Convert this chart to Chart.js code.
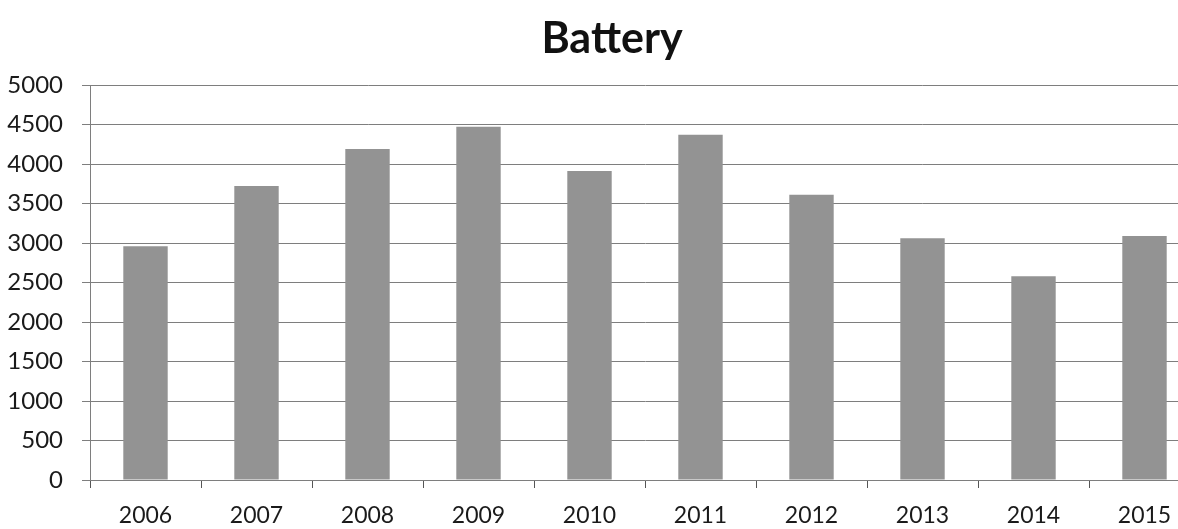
<!DOCTYPE html>
<html>
<head>
<meta charset="utf-8">
<title>Battery</title>
<script src="https://cdn.jsdelivr.net/npm/chart.js@4/dist/chart.umd.min.js"></script>
<style>
  html, body { margin: 0; padding: 0; background: #ffffff; overflow: hidden; }
  #wrap { width: 1178px; height: 529px; overflow: hidden; }
  canvas { display: block; }
</style>
</head>
<body>
<div id="wrap"><canvas id="chart" width="1224" height="529"></canvas></div>
<script>
// Yearly battery figures
const years = ['2006', '2007', '2008', '2009', '2010', '2011', '2012', '2013', '2014', '2015'];
const batteryValues = [2960, 3720, 4190, 4470, 3910, 4370, 3610, 3060, 2580, 3090];
const yTicks = [0, 500, 1000, 1500, 2000, 2500, 3000, 3500, 4000, 4500, 5000];

const FONT = 'Lato, "Noto Sans", sans-serif';
const GRID = '#7e7e7e';

// Centre the title over the whole canvas rather than the padded box
const centerTitle = {
  id: 'centerTitle',
  afterLayout(chart) {
    const t = chart.titleBlock;
    if (t) { t.left = 0; t.right = chart.width; }
  }
};

new Chart(document.getElementById('chart'), {
  type: 'bar',
  data: {
    labels: years,
    datasets: [{
      label: 'Battery',
      data: batteryValues,
      backgroundColor: '#939393',
      borderWidth: 0,
      categoryPercentage: 1.0,
      barPercentage: 0.4
    }]
  },
  plugins: [centerTitle],
  options: {
    responsive: false,
    animation: false,
    layout: { padding: { left: 0, right: 24, top: 0, bottom: 0 } },
    plugins: {
      legend: { display: false },
      tooltip: { enabled: false },
      title: {
        display: true,
        text: 'Battery',
        color: '#111111',
        font: { family: FONT, size: 43, weight: 'bold' },
        padding: { top: 13, bottom: 20.4 }
      }
    },
    scales: {
      x: {
        offset: true,
        grid: {
          display: true,
          offset: true,
          drawOnChartArea: false,
          drawTicks: true,
          tickLength: 8,
          color: '#555555',
          lineWidth: 1
        },
        border: { display: true, color: GRID, width: 1 },
        ticks: {
          color: '#1a1a1a',
          font: { family: FONT, size: 23 },
          padding: 14,
          maxRotation: 0,
          autoSkip: false
        },
        afterFit: (s) => { s.height = 49; }
      },
      y: {
        min: 0,
        max: 5000,
        afterBuildTicks: (s) => { s.ticks = yTicks.map(v => ({ value: v })); },
        grid: {
          color: GRID,
          lineWidth: 1,
          drawTicks: true,
          tickLength: 8
        },
        border: { display: true, color: GRID, width: 1 },
        ticks: {
          color: '#1a1a1a',
          font: { family: FONT, size: 24 },
          padding: 19,
          callback: (v) => String(v)
        },
        afterFit: (s) => { s.width = 90; }
      }
    }
  }
});
</script>
</body>
</html>
